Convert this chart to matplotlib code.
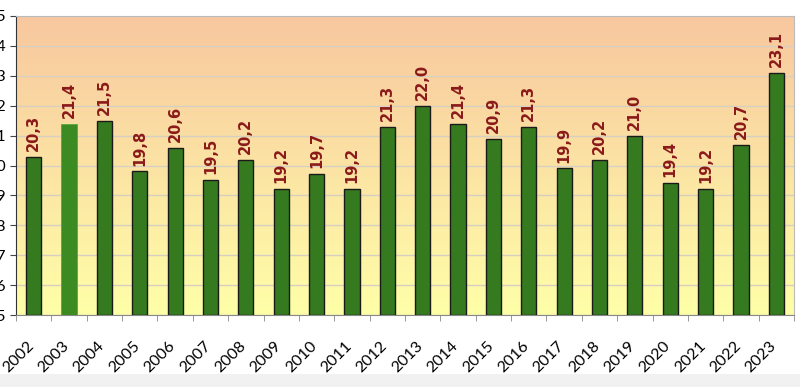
import numpy as np
import matplotlib.pyplot as plt
from matplotlib.colors import LinearSegmentedColormap
from matplotlib.patches import Rectangle

years = [str(y) for y in range(2002, 2024)]
values = [20.3, 21.4, 21.5, 19.8, 20.6, 19.5, 20.2, 19.2, 19.7, 19.2, 21.3,
          22.0, 21.4, 20.9, 21.3, 19.9, 20.2, 21.0, 19.4, 19.2, 20.7, 23.1]
highlight = "2003"
y_min, y_max = 15, 25

plt.rcParams['font.family'] = ['Lato', 'DejaVu Sans']

fig = plt.figure(figsize=(8, 3.87), dpi=100)
fig.patch.set_facecolor('white')
# light grey band at the very bottom
fig.patches.append(Rectangle((0, 0), 1, 0.033, transform=fig.transFigure,
                             facecolor='#f1f1f1', edgecolor='none', zorder=0))

ax = fig.add_axes([0.02, 0.186, 0.9725, 0.7727])
n = len(years)
x = np.arange(n)

# background gradient orange -> pale yellow
cmap = LinearSegmentedColormap.from_list('bg', ['#ffffa8', '#f8c79f'])
grad = np.linspace(0, 1, 256).reshape(-1, 1)
ax.imshow(grad, cmap=cmap, aspect='auto', origin='lower',
          extent=[-0.5, n - 0.5, y_min, y_max], zorder=0)

for i, (yr, v) in enumerate(zip(years, values)):
    if yr == highlight:
        ax.bar(i, v - y_min, bottom=y_min, width=0.43, color='#3c8a22',
               edgecolor='#5aa83a', linewidth=0.6, zorder=3)
    else:
        ax.bar(i, v - y_min, bottom=y_min, width=0.43, color='#367a1f',
               edgecolor='#1a1a1a', linewidth=1.0, zorder=3)
    ax.text(i, v + 0.2, f"{v:.1f}".replace('.', ','), rotation=90,
            ha='center', va='bottom', fontsize=10.5, fontweight='bold',
            color='#8b1a1a', zorder=4, family='DejaVu Sans')

ax.set_xlim(-0.5, n - 0.5)
ax.set_ylim(y_min, y_max)
ax.set_yticks(range(y_min, y_max + 1))
ax.yaxis.grid(True, color='#d6cfc2', linewidth=1.0, zorder=1)
ax.set_axisbelow(True)

ax.set_xticks(x - 0.2)
ax.set_xticklabels(years, rotation=45, ha='right', rotation_mode='anchor',
                   fontsize=11.5)
ax.tick_params(axis='x', length=0, pad=17)
ax.set_xticks(np.arange(-0.5, n), minor=True)
ax.tick_params(axis='x', which='minor', length=4, color='#888888')
ax.tick_params(axis='y', length=4.3, color='#444444', labelsize=11.5, pad=3)

ax.spines['left'].set_color('#333333')
ax.spines['bottom'].set_color('#888888')
ax.spines['top'].set_color('#bbbbbb')
ax.spines['right'].set_color('#bbbbbb')

fig.savefig('out.png', dpi=100)
